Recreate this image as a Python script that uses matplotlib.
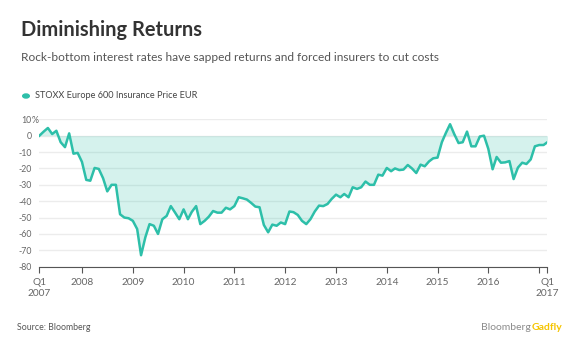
import matplotlib
matplotlib.use("Agg")
import matplotlib.pyplot as plt
import pandas as pd
from matplotlib.patches import Circle

plt.rcParams['font.family'] = ['Lato', 'DejaVu Sans']

# monthly index level vs Q1 2007 (%), Mar 2007 .. Mar 2017
start_month = '2007-03-01'
returns = [
    0, 2.5, 4.7, 1, 3, -4, -7, 1.4, -11, -10.5,
    -16, -27, -27.5, -19.7, -20.3, -26, -34, -30, -30, -48,
    -50, -50.4, -52, -57, -73, -62, -54, -55, -60, -51,
    -49, -43, -47, -51, -45, -51, -46.5, -43, -54, -52,
    -49.5, -46, -47, -47, -44, -45, -43, -37.6, -38.2, -39,
    -41, -43.3, -43.7, -54.5, -59, -54.3, -55, -53, -54, -46.3,
    -46.7, -48.4, -52, -54, -51, -46.3, -42.7, -43, -41.7, -38.6,
    -36, -37.6, -35.6, -37.6, -31.5, -32.5, -31.5, -28, -30, -30,
    -23.8, -24.4, -19.7, -21.7, -20, -21, -20.7, -17.9, -20, -22.8,
    -17.7, -18.7, -15.7, -13.8, -13.4, -4, 1.5, 7, 1, -4.5,
    -4, 2.5, -6.5, -6.5, -0.5, 0, -8, -20.5, -13, -16.5,
    -16.3, -15.5, -26.5, -19.5, -16.5, -17.3, -14.5, -6.5, -5.7, -5.7,
    -4,
]
year_ticks = list(range(2008, 2018))
year_labels = [str(y) for y in range(2008, 2017)] + ['']
y_ticks = list(range(-80, 11, 10))
y_labels = [str(v) for v in y_ticks]

teal = '#2dbfa9'
W, H = 580, 355

dates = pd.date_range(start_month, periods=len(returns), freq='MS')

fig = plt.figure(figsize=(W / 100, H / 100), dpi=100)
fig.patch.set_facecolor('white')

def fx(px):
    return px / W

def fy(py):
    return 1 - py / H

ax = fig.add_axes([fx(39.4), fy(266.7), fx(547.4) - fx(39.4), (266.7 - 119.3) / H])

ax.fill_between(dates, returns, 0, color=teal, alpha=0.2, lw=0, zorder=2)
ax.plot(dates, returns, color=teal, lw=1.8, zorder=3)

ax.set_xlim(dates[0], dates[-1])
ax.set_ylim(-80, 10)

# x ticks
tick_dates = [dates[0]] + [pd.Timestamp(f'{y}-01-01') for y in year_ticks] + [dates[-1]]
tick_labels = ['Q1\n2007'] + year_labels + ['Q1\n2017']
ax.set_xticks(tick_dates)
ax.set_xticklabels(tick_labels, fontsize=7.3, color='#666666', va='top', linespacing=1.3)
ax.tick_params(axis='x', direction='out', length=4, width=0.8, color='#555555', pad=4)

# y ticks, with the % sign hanging to the right of "10"
ax.set_yticks(y_ticks)
ax.set_yticklabels(y_labels, fontsize=6.3, color='#666666')
ax.tick_params(axis='y', length=0, pad=5.5)
ax.text(-0.0145, 10, '%', transform=ax.get_yaxis_transform(), fontsize=6.3,
        color='#666666', ha='left', va='center_baseline')

ax.grid(axis='y', color='#ececec', lw=1.0, zorder=1)
ax.set_axisbelow(True)
for s in ['top', 'right', 'left']:
    ax.spines[s].set_visible(False)
ax.spines['bottom'].set_color('#555555')
ax.spines['bottom'].set_linewidth(0.8)

# titles
fig.text(fx(21), fy(35.7), 'Diminishing Returns', fontsize=14.4, fontweight='bold',
         color='#333333', ha='left', va='baseline')
fig.text(fx(21), fy(60.7), 'Rock-bottom interest rates have sapped returns and forced insurers to cut costs',
         fontsize=8.55, color='#555555', ha='left', va='baseline')

# legend
fig.patches.append(Circle((fx(26), fy(96)), 3.3 / W, transform=fig.transFigure,
                          color=teal, zorder=5))
fig.text(fx(35), fy(95.5), 'STOXX Europe 600 Insurance Price EUR', fontsize=6.6,
         color='#444444', ha='left', va='center')

# footer
fig.text(fx(17), fy(327), 'Source: Bloomberg', fontsize=6.3, color='#555555',
         ha='left', va='center')
t = fig.text(fx(562), fy(327), 'Gadfly', fontsize=7.5, fontweight='bold', color='#f5c400',
             ha='right', va='center')
fig.canvas.draw()
bb = t.get_window_extent()
fig.text(bb.x0 / W, fy(327), 'Bloomberg', fontsize=7.5, color='#8c8c8c',
         ha='right', va='center')

fig.savefig('out.png', dpi=100)
